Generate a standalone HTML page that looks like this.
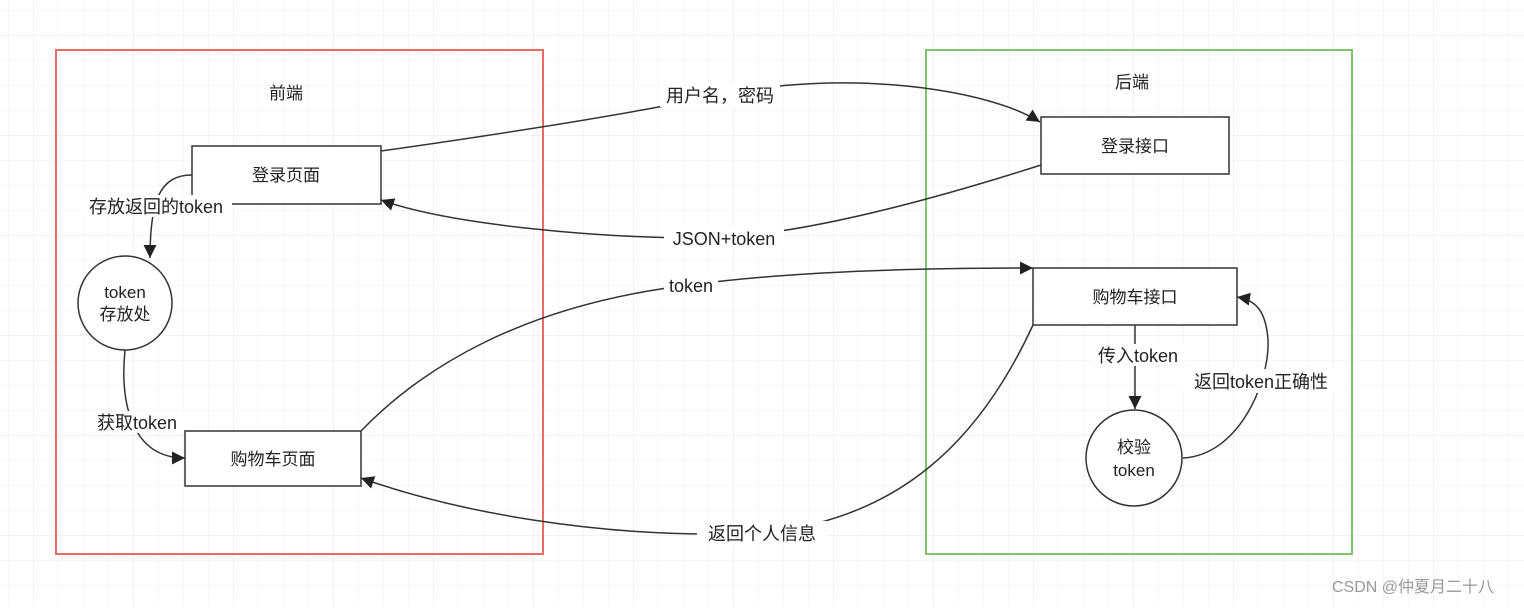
<!DOCTYPE html>
<html><head><meta charset="utf-8"><style>
html,body{margin:0;padding:0;}
body{width:1524px;height:606px;overflow:hidden;background:#fff;}
svg text{font-family:"Liberation Sans","Noto Sans CJK SC",sans-serif;fill:#222;}
</style></head><body>
<svg width="1524" height="606" xmlns="http://www.w3.org/2000/svg">
<defs>
<pattern id="g" x="8" y="10" width="25" height="25" patternUnits="userSpaceOnUse">
<path d="M0,0H25M0,0V25" stroke="#efefef" stroke-width="1" fill="none"/>
</pattern>
<pattern id="G" x="33" y="35" width="100" height="100" patternUnits="userSpaceOnUse">
<path d="M0,0H100M0,0V100" stroke="#e4e4e4" stroke-width="1" fill="none"/>
</pattern>
<marker id="a" viewBox="0 0 10 10" refX="10" refY="5" markerWidth="13" markerHeight="13" markerUnits="userSpaceOnUse" orient="auto">
<path d="M0,0L10,5L0,10z" fill="#222"/>
</marker>
</defs>
<rect width="1524" height="606" fill="url(#g)"/>
<rect width="1524" height="606" fill="url(#G)"/>

<rect x="56" y="50" width="487" height="504" fill="none" stroke="#ea6b66" stroke-width="2"/>
<rect x="926" y="50" width="426" height="504" fill="none" stroke="#82c46e" stroke-width="2"/>
<text x="286" y="99" font-size="17" text-anchor="middle">前端</text>
<text x="1132" y="88" font-size="17" text-anchor="middle">后端</text>

<g fill="none" stroke="#333" stroke-width="1.5">
<path d="M381,151 Q600,120 720,95 C850,68 990,90 1040,122" marker-end="url(#a)"/>
<path d="M1041,165 C900,210 780,238 700,238 C600,238 450,225 381,200" marker-end="url(#a)"/>
<path d="M361,431 C420,370 520,305 690,285 C800,270 950,268 1033,268" marker-end="url(#a)"/>
<path d="M1033,325 C980,440 900,520 760,533 C600,540 450,510 361,478" marker-end="url(#a)"/>
<path d="M192,175 C160,175 150,200 150,258" marker-end="url(#a)"/>
<path d="M125,350 C120,400 130,458 185,458" marker-end="url(#a)"/>
<path d="M1135,325 L1135,409" marker-end="url(#a)"/>
<path d="M1183,458 C1240,455 1270,380 1268,340 C1266,310 1255,300 1237,297" marker-end="url(#a)"/>
</g>

<g fill="#fff" stroke="#333" stroke-width="1.5">
<rect x="192" y="146" width="189" height="58"/>
<rect x="185" y="431" width="176" height="55"/>
<rect x="1041" y="117" width="188" height="57"/>
<rect x="1033" y="268" width="204" height="57"/>
<circle cx="125" cy="303" r="47"/>
<circle cx="1134" cy="458" r="48"/>
</g>

<g font-size="17" text-anchor="middle">
<text x="286" y="181">登录页面</text>
<text x="273" y="465">购物车页面</text>
<text x="1135" y="152">登录接口</text>
<text x="1135" y="303">购物车接口</text>
<text x="125" y="298">token</text>
<text x="125" y="320">存放处</text>
<text x="1134" y="453">校验</text>
<text x="1134" y="476">token</text>
</g>

<g font-size="18" text-anchor="middle">
<rect x="660" y="83" width="120" height="24" fill="#fff"/>
<text x="720" y="102">用户名，密码</text>
<rect x="664" y="226" width="120" height="24" fill="#fff"/>
<text x="724" y="245">JSON+token</text>
<rect x="664" y="274" width="54" height="22" fill="#fff"/>
<text x="691" y="292">token</text>
<rect x="697" y="521" width="130" height="24" fill="#fff"/>
<text x="762" y="540">返回个人信息</text>
<rect x="80" y="195" width="152" height="22" fill="#fff"/>
<text x="156" y="213">存放返回的token</text>
<rect x="90" y="411" width="94" height="22" fill="#fff"/>
<text x="137" y="429">获取token</text>
<rect x="1091" y="344" width="94" height="22" fill="#fff"/>
<text x="1138" y="362">传入token</text>
<rect x="1180" y="369" width="164" height="24" fill="#fff"/>
<text x="1261" y="388">返回token正确性</text>
</g>
<text x="1413" y="592" font-size="16" text-anchor="middle" style="fill:#999">CSDN @仲夏月二十八</text>
</svg>
</body></html>
